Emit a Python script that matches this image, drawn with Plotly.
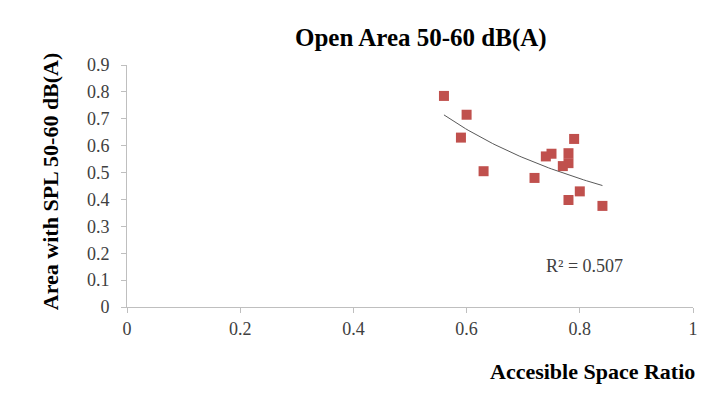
import numpy as np
import plotly.graph_objects as go

# Accessible space ratio vs. share of area with SPL 50-60 dB(A)
space_ratio = [0.56, 0.60, 0.59, 0.63, 0.72, 0.74, 0.75, 0.78, 0.78, 0.77, 0.79, 0.80, 0.78, 0.84]
area_share = [0.785, 0.715, 0.63, 0.505, 0.48, 0.56, 0.57, 0.572, 0.535, 0.524, 0.625, 0.43, 0.398, 0.376]

x_ticks = [0, 0.2, 0.4, 0.6, 0.8, 1]
x_tick_text = ["0", "0.2", "0.4", "0.6", "0.8", "1"]
y_ticks = [0, 0.1, 0.2, 0.3, 0.4, 0.5, 0.6, 0.7, 0.8, 0.9]
y_tick_text = ["0", "0.1", "0.2", "0.3", "0.4", "0.5", "0.6", "0.7", "0.8", "0.9"]
r2_label = "R² = 0.507"

# Power trend line (least squares on log-log)
xa = np.array(space_ratio)
ya = np.array(area_share)
b, ln_a = np.polyfit(np.log(xa), np.log(ya), 1)
trend_x = np.linspace(xa.min(), xa.max(), 60)
trend_y = np.exp(ln_a) * trend_x ** b

serif = "Liberation Serif, Times New Roman, serif"
tick_color = "#404040"

fig = go.Figure()
fig.add_trace(go.Scatter(
    x=trend_x, y=trend_y, mode="lines",
    line=dict(color="#595959", width=1),
    hoverinfo="skip", showlegend=False,
))
fig.add_trace(go.Scatter(
    x=space_ratio, y=area_share, mode="markers",
    marker=dict(symbol="square", size=10, color="#C0504D"),
    showlegend=False,
))

fig.update_layout(
    width=725, height=403,
    margin=dict(l=127, r=32, t=65, b=96),
    paper_bgcolor="white", plot_bgcolor="white",
    font=dict(family=serif, color=tick_color, size=18),
    xaxis=dict(
        range=[0, 1], tickvals=x_ticks, ticktext=x_tick_text,
        showgrid=False, zeroline=False,
        showline=True, linecolor="#BFBFBF", linewidth=1,
        ticks="outside", ticklen=5, tickcolor="#BFBFBF",
        tickfont=dict(family=serif, size=18, color=tick_color),
    ),
    yaxis=dict(
        range=[0, 0.9], tickvals=y_ticks, ticktext=y_tick_text,
        showgrid=False, zeroline=False,
        showline=True, linecolor="#BFBFBF", linewidth=1,
        ticks="outside", ticklen=5, tickcolor="#BFBFBF",
        ticklabelstandoff=8,
        tickfont=dict(family=serif, size=18, color=tick_color),
    ),
    annotations=[
        dict(text="<b>Open Area 50-60 dB(A)</b>", xref="paper", yref="paper",
             x=0.519, y=1.0, yshift=27, xanchor="center", yanchor="middle",
             showarrow=False, font=dict(family=serif, size=25, color="black")),
        dict(text="<b>Area with SPL 50-60 dB(A)</b>", xref="paper", yref="paper",
             x=0, xshift=-77, y=0.52, textangle=-90, xanchor="center", yanchor="middle",
             showarrow=False, font=dict(family=serif, size=22, color="black")),
        dict(text="<b>Accesible Space Ratio</b>", xref="paper", yref="paper",
             x=1, xshift=4, y=0, yshift=-64, xanchor="right", yanchor="middle",
             showarrow=False, font=dict(family=serif, size=22, color="black")),
        dict(text=r2_label, xref="x", yref="y", x=0.809, y=0.152,
             xanchor="center", yanchor="middle", showarrow=False,
             font=dict(family=serif, size=18, color=tick_color)),
    ],
)

fig.write_html("out.html")
